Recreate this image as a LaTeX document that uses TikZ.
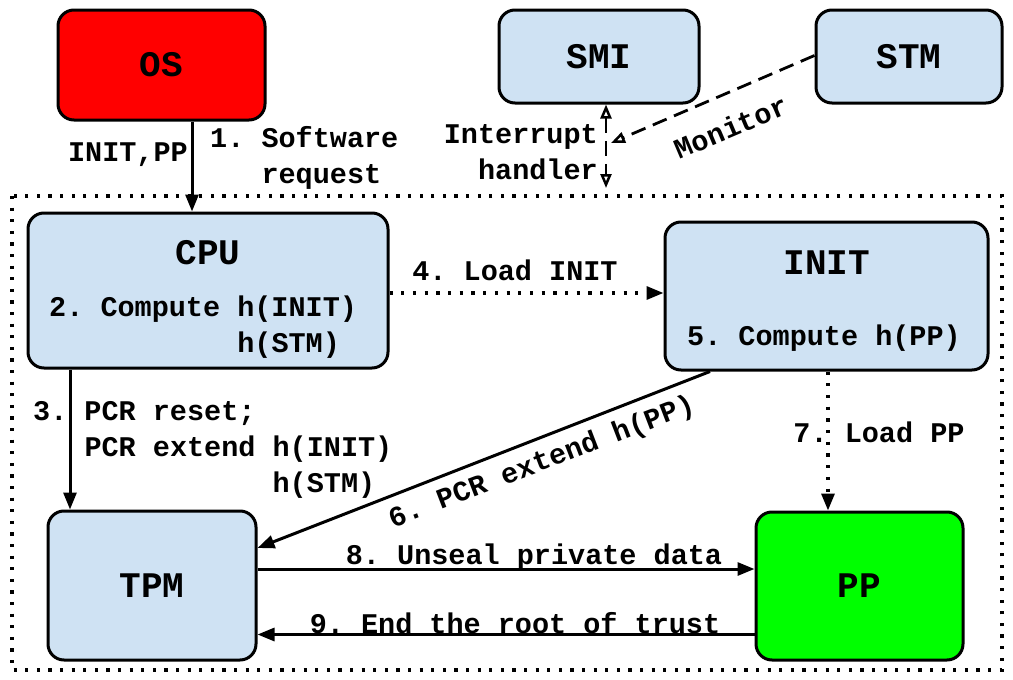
\documentclass[tikz,border=0pt]{standalone}
\usepackage{fontspec}
\newfontfamily\monofnt{Liberation Mono}
\usetikzlibrary{arrows.meta,calc}
\definecolor{boxblue}{HTML}{CFE2F3}
\definecolor{osred}{HTML}{FF0000}
\definecolor{ppgreen}{HTML}{00FF00}
\tikzset{
  txt/.style={font=\fontsize{28.5}{36}\selectfont\monofnt\bfseries\frenchspacing, inner sep=0pt},
  ttl/.style={font=\fontsize{36}{40}\selectfont\monofnt\bfseries, inner sep=0pt},
  boxst/.style={draw=black, line width=3pt, rounded corners=16pt, fill=boxblue, inner sep=0pt,
    font=\fontsize{36}{40}\selectfont\monofnt\bfseries},
  arr/.style={line width=3pt, -{Triangle[length=17pt,width=13pt]}},
  dotarr/.style={line width=3.2pt, dash pattern=on 3.2pt off 8.5pt, -{Triangle[length=17pt,width=13pt]}},
  opentip/.tip={Triangle[open,fill=white,length=14pt,width=11pt,line width=2.5pt]},
  dasharr/.style={line width=2.8pt, dash pattern=on 15pt off 8pt},
}
\begin{document}
\begin{tikzpicture}[x=1pt,y=-1pt]
\useasboundingbox (0,0) rectangle (1013,680);
% outer dotted frame
\draw[line width=3.2pt, dash pattern=on 3.2pt off 8.4pt] (12,196) rectangle (1002,670);
% boxes
\node[boxst, fill=osred, minimum width=207pt, minimum height=110pt] (os) at (161.5,65) {OS};
\node[boxst, minimum width=200pt, minimum height=93pt] (smi) at (599,56.5) {SMI};
\node[boxst, minimum width=186pt, minimum height=93pt] (stm) at (909,56.5) {STM};
\node[boxst, minimum width=360pt, minimum height=155pt] (cpu) at (208,290.5) {};
\node[boxst, minimum width=323pt, minimum height=148pt] (init) at (826.5,296) {};
\node[boxst, minimum width=208pt, minimum height=149pt] (tpm) at (152,585.5) {TPM};
\node[boxst, fill=ppgreen, minimum width=207pt, minimum height=148pt] (pp) at (859.5,586) {PP};
% box texts
\node[ttl] (cpuT) at (208,253) {CPU};
\node[txt, anchor=west, align=left] (cpuC) at (49,327) {2. Compute h(INIT)\\\hphantom{2. Compute }h(STM)};
\node[ttl] (initT) at (827,263) {INIT};
\node[txt] (initC) at (824,338) {5. Compute h(PP)};
% connector start points
\coordinate (s1) at ($(os.south)+(30.5,0)$);
\coordinate (s3) at ($(cpu.south)+(-138,0)$);
\coordinate (s4) at ($(cpu.east)+(0,2.5)$);
\coordinate (s6) at ($(init.south)+(-116.5,0)$);
\coordinate (e6) at ($(tpm.east)+(0,-37.5)$);
\coordinate (s7) at ($(init.south)+(1.5,0)$);
\coordinate (s8) at ($(tpm.east)+(0,-16.5)$);
\coordinate (s9) at ($(pp.west)+(0,48.5)$);
\coordinate (sSmi) at ($(smi.south)+(7,0)$);
\coordinate (sStm) at ($(stm.west)+(0,-1)$);
% 1. software request
\draw[arr] (s1) -- (s1 |- cpu.north);
\node[txt, anchor=east] (l1a) at (188,155) {INIT,PP};
\node[txt, anchor=west, align=left] (l1b) at (210,158) {1. Software\\\hphantom{1. }request};
% SMI / STM
\coordinate (irq) at (606,188);
\draw[dasharr, opentip-opentip] (sSmi) -- (irq);
\coordinate (mon) at (611,143);
\draw[dasharr, -opentip] (sStm) -- (mon);
\node[txt, anchor=east, align=right] (lint) at (598,152) {Interrupt\\handler};
\node[txt, rotate=23] (lmon) at (731,127) {Monitor};
% 4. load INIT
\draw[dotarr] (s4) -- (s4 -| init.west);
\node[txt] (l4) at (515,270) {4. Load INIT};
% 3. PCR
\draw[arr] (s3) -- (s3 |- tpm.north);
\node[txt, anchor=west, align=left] (l3) at (33,450) {3. PCR reset;\\\hphantom{3. }PCR extend h(INIT)\\\hphantom{3. PCR extend }h(STM)};
% 6. PCR extend h(PP)
\draw[arr] (s6) -- (e6);
\node[txt, rotate=21] (l6) at (542,463) {6. PCR extend h(PP)};
% 7. load PP
\draw[dotarr] (s7) -- (s7 |- pp.north);
\node[txt] (l7) at (879,432) {7. Load PP};
% 8 / 9
\draw[arr] (s8) -- (s8 -| pp.west);
\node[txt] (l8) at (534,557) {8. Unseal private data};
\draw[arr] (s9) -- (s9 -| tpm.east);
\node[txt] (l9) at (515,623) {9. End the root of trust};
\end{tikzpicture}
\end{document}
